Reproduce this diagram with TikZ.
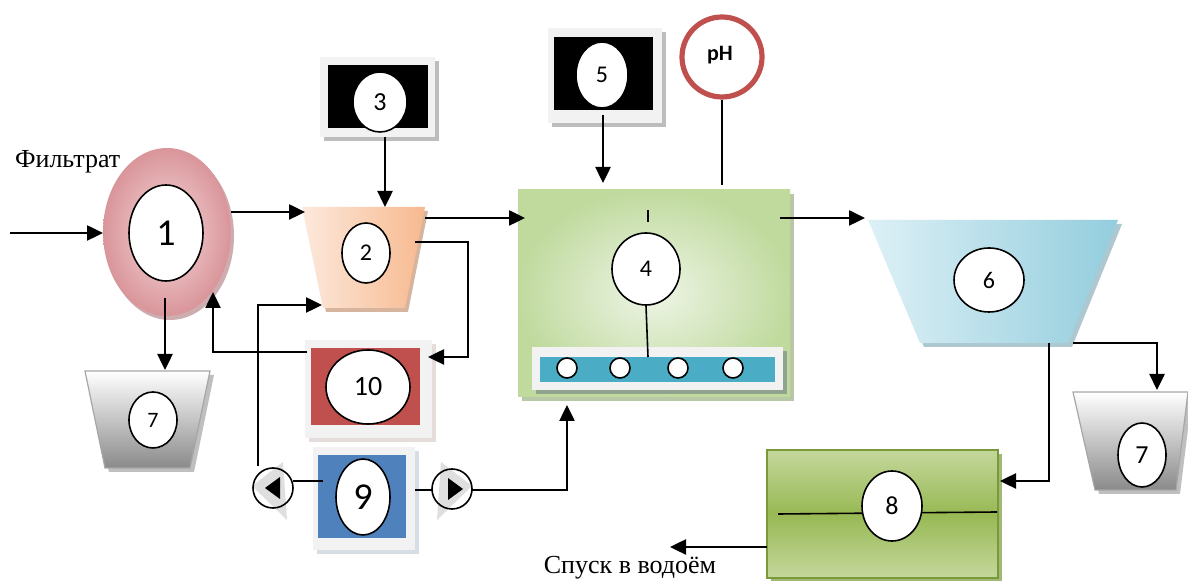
\documentclass[tikz,border=0pt]{standalone}
\usepackage{fontspec}
\setmainfont{Liberation Serif}
\newfontfamily\numfont{Carlito}
\usetikzlibrary{shapes.geometric,arrows.meta}
\definecolor{pinkO}{HTML}{D9959A}
\definecolor{pinkI}{HTML}{F6DADB}
\definecolor{orgA}{HTML}{FCE9DC}
\definecolor{orgB}{HTML}{F7B98F}
\definecolor{bluA}{HTML}{DDF0F6}
\definecolor{bluB}{HTML}{93CDDD}
\definecolor{grnA}{HTML}{EEF5E6}
\definecolor{grnB}{HTML}{C0DA9E}
\definecolor{olvA}{HTML}{C4D79C}
\definecolor{olvB}{HTML}{98B954}
\definecolor{olvD}{HTML}{7A9A3A}
\definecolor{frameC}{HTML}{F2F2F2}
\definecolor{shadC}{HTML}{BDBDBD}
\definecolor{redC}{HTML}{C0504D}
\definecolor{bluC}{HTML}{4F81BD}
\definecolor{barC}{HTML}{4BACC6}
\definecolor{gryB}{HTML}{8A8A8A}
\begin{document}
\begin{tikzpicture}[x=0.5pt,y=-0.5pt,
  arr/.style={line width=1.25pt,-{Triangle[length=8pt,width=7.5pt]}},
  ln/.style={line width=1.25pt},
  thin ln/.style={line width=0.8pt},
  num/.style={ellipse,draw=black,line width=0.8pt,fill=white,inner sep=0pt},
  frame/.style={fill=frameC},
  shad/.style={fill=shadC},
]
\useasboundingbox[fill=white] (0,0) rectangle (1188,581);

% ---------- 1 : ring
\fill[pinkO!80!black!60] (170,236) ellipse [x radius=64, y radius=84];
\shade[inner color=pinkI, outer color=pinkO] (167,232) ellipse [x radius=64, y radius=84];
\node[num, minimum width=37pt, minimum height=48pt, font=\numfont\fontsize{19}{19}\selectfont] (n1) at (166,233) {1};
\coordinate (c1in) at (103,233);
\coordinate (c1out) at (231,212);
\coordinate (c1bot) at (165,298);
\coordinate (c1ret) at (213,292);

% ---------- 7 left
\fill[gray!50] (89,375) -- (214,375) -- (194,472) -- (109,472) -- cycle;
\shade[top color=white, bottom color=gryB] (85,371) -- (210,371) -- (190,468) -- (105,468) -- cycle;
\draw[gray!70, line width=0.6pt] (85,371) -- (210,371) -- (190,468) -- (105,468) -- cycle;
\node[num, minimum width=24pt, minimum height=28pt, font=\numfont\fontsize{11}{11}\selectfont] (n7a) at (153,420) {7};
\coordinate (c7atop) at (165,370);

% ---------- 2 : orange trapezoid
\fill[orgB!80!black!70] (305,211) -- (428,211) -- (408,312) -- (326,312) -- cycle;
\shade[shading angle=135, left color=orgA, right color=orgB] (302,207) -- (425,207) -- (405,308) -- (323,308) -- cycle;
\node[num, minimum width=24pt, minimum height=30pt, font=\numfont\fontsize{12}{12}\selectfont] (n2) at (366,253) {2};
\coordinate (c2in) at (305,212);
\coordinate (c2top) at (385,207);
\coordinate (c2out) at (425,218);
\coordinate (c2side) at (415,242);
\coordinate (c2low) at (322,305);

% ---------- 3 : black box
\fill[shadC] (324,61) rectangle (439,141);
\fill[frame] (320,57) rectangle (435,137);
\fill[black] (328,65) rectangle (428,128);
\node[num, minimum width=27pt, minimum height=30pt, font=\numfont\fontsize{13}{13}\selectfont] (n3) at (380,102) {3};
\coordinate (c3out) at (385,137);

% ---------- 10 : red box
\fill[shadC!80!redC!40] (309,344) rectangle (436,442);
\fill[frame] (305,340) rectangle (432,438);
\fill[redC] (311,348) rectangle (420,425);
\node[num, minimum width=42pt, minimum height=37pt, font=\numfont\fontsize{14}{14}\selectfont] (n10) at (368,387) {10};
\coordinate (c10in) at (428,357);
\coordinate (c10out) at (307,352);

% ---------- 9 : blue box
\fill[shadC!70!bluC!40] (317,451) rectangle (419,554);
\fill[frame] (313,447) rectangle (415,550);
\fill[bluC] (318,455) rectangle (406,538);
\node[num, minimum width=27pt, minimum height=38pt, font=\numfont\fontsize{19}{19}\selectfont] (n9) at (363,497) {9};

% pumps
\fill[gray!25] (252,486) -- (283,462) -- (287,520) -- cycle;
\draw[thin ln] (273,488) circle [radius=20];
\fill[black] (265,488) -- (280,477) -- (280,499) -- cycle;
\coordinate (pL) at (273,488);
\fill[gray!25] (472,486) -- (441,462) -- (437,520) -- cycle;
\draw[thin ln] (452,489) circle [radius=20];
\fill[black] (463,489) -- (448,478) -- (448,500) -- cycle;
\coordinate (pR) at (452,489);

% ---------- 4 : green tank
\fill[grnB!80!black!70] (522,194) rectangle (794,401);
\shade[inner color=grnA, outer color=grnB] (518,190) rectangle (790,397);
\fill[gray!60!green!40!black!50] (536,351) rectangle (787,394);
\fill[frameC] (532,347) rectangle (783,390);
\fill[barC] (540,357) rectangle (775,382);
\foreach \xx in {567,620,678,733}
  \draw[thin ln, fill=white] (\xx,368) circle [radius=10];
\node[num, minimum width=34pt, minimum height=36pt, font=\numfont\fontsize{12}{12}\selectfont] (n4) at (646,269) {4};
\coordinate (bar) at (648,357);
\draw[thin ln] (648,210) -- (648,222);
\draw[thin ln] (n4.south) -- (bar);
\coordinate (c4in) at (525,218);
\coordinate (c4out) at (780,218);
\coordinate (c4top5) at (603,183);
\coordinate (c4topph) at (722,185);
\coordinate (c4bot) at (567,405);

% ---------- 5 : black box
\fill[shadC] (552,32) rectangle (666,127);
\fill[frame] (548,28) rectangle (662,123);
\fill[black] (554,37) rectangle (653,110);
\node[num, minimum width=26pt, minimum height=33pt, font=\numfont\fontsize{12}{12}\selectfont] (n5) at (602,75) {5};
\coordinate (c5out) at (603,115);

% ---------- pH
\node[circle, draw=redC, line width=2.6pt, fill=white, minimum size=40pt, inner sep=0pt] (ph) at (722,57) {};
\node[font=\numfont\bfseries\fontsize{11}{11}\selectfont] (phtxt) at (720,55) {pH};

% ---------- 6 : blue trapezoid
\fill[bluB!80!black!60] (872,224) -- (1122,224) -- (1072,347) -- (924,347) -- cycle;
\shade[shading angle=160, left color=bluA, right color=bluB] (868,220) -- (1118,220) -- (1068,343) -- (920,343) -- cycle;
\node[num, minimum width=35pt, minimum height=32pt, font=\numfont\fontsize{12}{12}\selectfont] (n6) at (989,280) {6};
\coordinate (c6in) at (865,218);
\coordinate (c6a) at (1073,343);
\coordinate (c6b) at (1049,343);

% ---------- 7 right
\fill[gray!50] (1077,396) -- (1192,396) -- (1180,494) -- (1099,494) -- cycle;
\shade[top color=white, bottom color=gryB] (1073,392) -- (1188,392) -- (1176,490) -- (1095,490) -- cycle;
\draw[gray!70, line width=0.6pt] (1073,392) -- (1188,392) -- (1176,490) -- (1095,490) -- cycle;
\node[num, minimum width=24pt, minimum height=32pt, font=\numfont\fontsize{13}{13}\selectfont] (n7b) at (1142,455) {7};
\coordinate (c7btop) at (1157,390);

% ---------- 8 : olive box
\fill[olvD!70] (771,454) rectangle (1002,582);
\shade[top color=olvA, bottom color=olvA, middle color=olvB] (767,450) rectangle (998,578);
\draw[olvD, line width=0.8pt] (767,450) rectangle (998,578);
\draw[thin ln] (778,514) -- (997,512);
\node[num, minimum width=30pt, minimum height=35pt, font=\numfont\fontsize{13}{13}\selectfont] (n8) at (892,506) {8};
\coordinate (c8in) at (1000,481);
\coordinate (c8out) at (767,547);
\coordinate (outlet) at (670,547);

% ---------- texts
\node[font=\fontsize{13}{13}\selectfont, anchor=west] (tf) at (8,162) {Фильтрат};
\node[font=\fontsize{13}{13}\selectfont] (ts) at (630,568) {Спуск в водоём};
\coordinate (feed) at (10,233);

% ---------- connectors
\draw[arr] (feed) -- (c1in);
\draw[arr] (c1out) -- (c2in);
\draw[arr] (c1bot) -- (c7atop);
\draw[arr] (c3out) -- (c2top);
\draw[arr] (c2out) -- (c4in);
\draw[arr] (c2side) -- (468,242) -- (468,357) -- (c10in);
\draw[arr] (c10out) -- (213,352) -- (c1ret);
\draw[arr] (258,466) -- (258,305) -- (c2low);
\draw[ln] (293,481) -- (323,481);
\draw[ln] (415,490) -- (432,490);
\draw[arr] (472,490) -- (567,490) -- (c4bot);
\draw[arr] (c5out) -- (c4top5);
\draw[thin ln] (ph.south) -- (c4topph);
\draw[arr] (c4out) -- (c6in);
\draw[arr] (c6a) -- (1157,343) -- (c7btop);
\draw[arr] (c6b) -- (1049,481) -- (c8in);
\draw[arr] (c8out) -- (outlet);
\end{tikzpicture}
\end{document}
